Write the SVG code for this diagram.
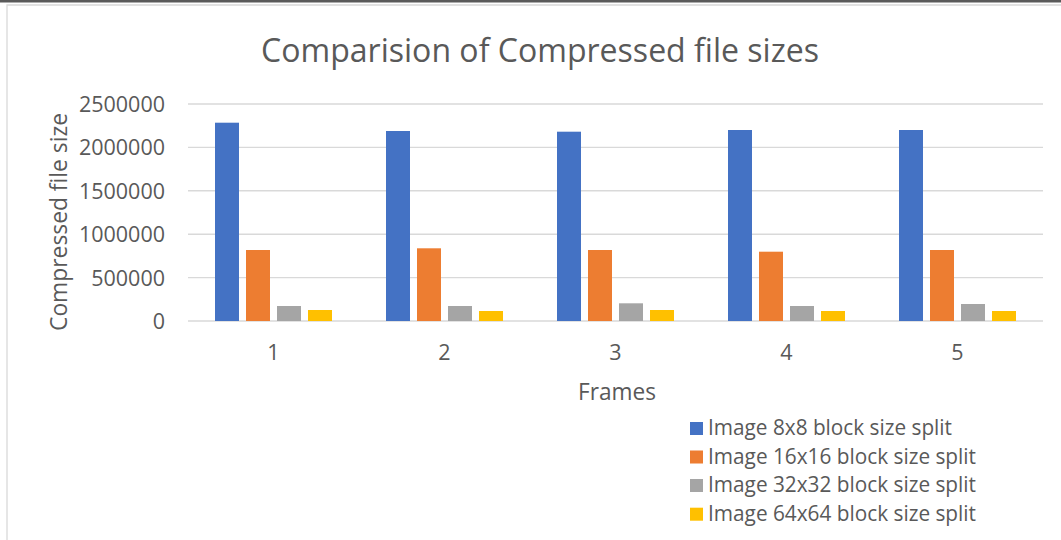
<svg xmlns="http://www.w3.org/2000/svg" width="1061" height="540" viewBox="0 0 1061 540">
<style>
.t{font-family:"Open Sans","Liberation Sans",sans-serif;fill:#595959}
.tick{font-size:21.5px}
.grid{stroke:#d9d9d9;stroke-width:1.4;fill:none}
.s1{fill:#4472C4}.s2{fill:#ED7D31}.s3{fill:#A5A5A5}.s4{fill:#FFC000}
</style>
<rect x="0" y="0" width="1061" height="540" fill="#ffffff"/>
<rect x="0" y="0" width="1061" height="2.5" fill="#5a5a5a"/>
<path d="M7,540 V5 H1061" fill="none" stroke="#d9d9d9" stroke-width="1.3"/>
<g id="title"><text class="t" x="540" y="62" font-size="33.4" text-anchor="middle" textLength="558" lengthAdjust="spacingAndGlyphs">Comparision of Compressed file sizes</text></g>
<g id="gridlines">
<path class="grid" d="M188,104H1043M188,147.4H1043M188,190.8H1043M188,234.2H1043M188,277.6H1043M188,321H1043"/>
</g>
<g id="y-axis" class="t tick" text-anchor="end">
<text x="165" y="112">2500000</text>
<text x="165" y="155.4">2000000</text>
<text x="165" y="198.8">1500000</text>
<text x="165" y="242.2">1000000</text>
<text x="165" y="285.6">500000</text>
<text x="165" y="329">0</text>
</g>
<g id="y-title"><text class="t" transform="translate(67,222) rotate(-90)" x="0" y="0" font-size="23.8" text-anchor="middle" textLength="218" lengthAdjust="spacingAndGlyphs">Compressed file size</text></g>
<g id="x-axis" class="t tick" text-anchor="middle">
<text x="273.5" y="360">1</text>
<text x="444.5" y="360">2</text>
<text x="615.5" y="360">3</text>
<text x="786.5" y="360">4</text>
<text x="957.5" y="360">5</text>
</g>
<g id="x-title"><text class="t" x="617" y="400" font-size="23.8" text-anchor="middle" textLength="78" lengthAdjust="spacingAndGlyphs">Frames</text></g>
<g id="bars">
<g id="frame1">
<rect class="s1" x="215" y="122.7" width="24" height="198.3"/>
<rect class="s2" x="246" y="250" width="24" height="71"/>
<rect class="s3" x="277" y="306" width="24" height="15"/>
<rect class="s4" x="308" y="310" width="24" height="11"/>
</g>
<g id="frame2">
<rect class="s1" x="386" y="131" width="24" height="190"/>
<rect class="s2" x="417" y="248.3" width="24" height="72.7"/>
<rect class="s3" x="448" y="306" width="24" height="15"/>
<rect class="s4" x="479" y="311" width="24" height="10"/>
</g>
<g id="frame3">
<rect class="s1" x="557" y="131.7" width="24" height="189.3"/>
<rect class="s2" x="588" y="250" width="24" height="71"/>
<rect class="s3" x="619" y="303.3" width="24" height="17.7"/>
<rect class="s4" x="650" y="310" width="24" height="11"/>
</g>
<g id="frame4">
<rect class="s1" x="728" y="130" width="24" height="191"/>
<rect class="s2" x="759" y="251.7" width="24" height="69.3"/>
<rect class="s3" x="790" y="306" width="24" height="15"/>
<rect class="s4" x="821" y="311" width="24" height="10"/>
</g>
<g id="frame5">
<rect class="s1" x="899" y="130" width="24" height="191"/>
<rect class="s2" x="930" y="250" width="24" height="71"/>
<rect class="s3" x="961" y="304" width="24" height="17"/>
<rect class="s4" x="992" y="311" width="24" height="10"/>
</g>
</g>
<g id="legend" class="t tick">
<g id="legend-8x8"><rect class="s1" x="690" y="422" width="13" height="13"/><text x="708" y="435" textLength="244" lengthAdjust="spacingAndGlyphs">Image 8x8 block size split</text></g>
<g id="legend-16x16"><rect class="s2" x="690" y="450.5" width="13" height="13"/><text x="708" y="463.5" textLength="268" lengthAdjust="spacingAndGlyphs">Image 16x16 block size split</text></g>
<g id="legend-32x32"><rect class="s3" x="690" y="479" width="13" height="13"/><text x="708" y="492" textLength="268" lengthAdjust="spacingAndGlyphs">Image 32x32 block size split</text></g>
<g id="legend-64x64"><rect class="s4" x="690" y="507.7" width="13" height="13"/><text x="708" y="520.7" textLength="268" lengthAdjust="spacingAndGlyphs">Image 64x64 block size split</text></g>
</g>
</svg>
